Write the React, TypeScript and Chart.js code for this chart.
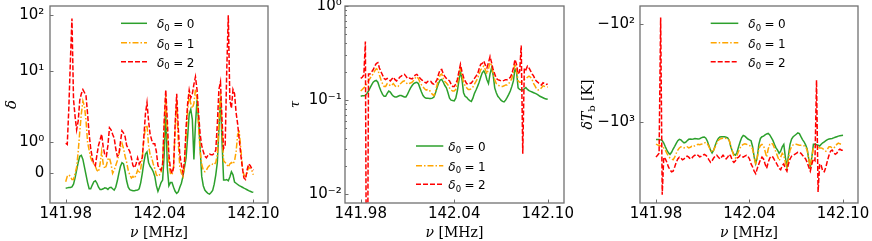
import React, { useEffect, useRef } from 'react';
import { Chart, registerables, LinearScale } from 'chart.js';

Chart.register(...registerables);

// ---------------- data ----------------
const FREQ = [
  141.980, 141.981, 141.982, 141.983, 141.984, 141.985, 141.986, 141.987, 141.988, 141.989,
  141.990, 141.991, 141.992, 141.993, 141.994, 141.995, 141.996, 141.997, 141.998, 141.999,
  142.000, 142.001, 142.002, 142.003, 142.004, 142.005, 142.006, 142.007, 142.008, 142.009,
  142.010, 142.011, 142.012, 142.013, 142.014, 142.015, 142.016, 142.017, 142.018, 142.019,
  142.020, 142.021, 142.022, 142.023, 142.024, 142.025, 142.026, 142.027, 142.028, 142.029,
  142.030, 142.031, 142.032, 142.033, 142.034, 142.035, 142.036, 142.037, 142.038, 142.039,
  142.040, 142.041, 142.042, 142.043, 142.044, 142.045, 142.046, 142.047, 142.048, 142.049,
  142.050, 142.051, 142.052, 142.053, 142.054, 142.055, 142.056, 142.057, 142.058, 142.059,
  142.060, 142.061, 142.062, 142.063, 142.064, 142.065, 142.066, 142.067, 142.068, 142.069,
  142.070, 142.071, 142.072, 142.073, 142.074, 142.075, 142.076, 142.077, 142.078, 142.079,
  142.080, 142.081, 142.082, 142.083, 142.084, 142.085, 142.086, 142.087, 142.088, 142.089,
  142.090, 142.091, 142.092, 142.093, 142.094, 142.095, 142.096, 142.097, 142.098, 142.099,
  142.100,
];

// density contrast delta, delta0 = 0 / 1 / 2
const DELTA_G = [
  -0.48, -0.47, -0.46, -0.46, -0.44, -0.35, -0.15, 0.1, 0.35, 0.55,
  0.58, 0.45, 0.2, -0.05, -0.3, -0.5, -0.5, -0.38, -0.27, -0.24,
  -0.32, -0.45, -0.52, -0.52, -0.5, -0.47, -0.48, -0.52, -0.46, -0.45,
  -0.5, -0.54, -0.45, -0.25, 0.0, 0.22, 0.34, 0.3, 0.05, -0.25,
  -0.45, -0.53, -0.55, -0.56, -0.56, -0.55, -0.54, -0.5, -0.3, 0.0,
  0.35, 0.62, 0.69, 0.35, 0.22, 0.15, 0.05, -0.1, -0.4, -0.58,
  -0.45, -0.3, -0.22, 0.6, 2.84, 0.2, -0.4, -0.3, -0.3, -0.45,
  -0.58, -0.65, -0.6, -0.45, -0.32, -0.1, 0.2, 0.5, 1.2, 2.5,
  2.9, 2.1, 0.45, 1.8, 3.9, 2.0, 0.8, -0.1, -0.4, -0.54,
  -0.6, -0.65, -0.67, -0.62, -0.55, -0.35, -0.05, 0.35, 1.5, 4.1,
  1.0, -0.22, -0.22, -0.2, -0.24, -0.12, 0.05, -0.05, -0.28, -0.32,
  -0.36, -0.4, -0.42, -0.45, -0.48, -0.5, -0.53, -0.56, -0.58, -0.6,
  -0.61,
];
const DELTA_O = [
  -0.27, -0.1, -0.05, -0.1, -0.2, -0.2, 0.0, 0.2, 0.7, 1.4,
  2.5, 3.8, 3.2, 2.0, 1.0, 0.75, 0.5, 0.37, 0.3, 0.22,
  0.1, 0.05, 0.3, 0.7, 0.3, 0.15, 0.25, 0.45, 0.5, 0.3,
  0.0, 0.1, 0.25, 0.4, 0.6, 0.85, 0.97, 0.8, 0.55, 0.35,
  0.1, -0.05, -0.15, -0.1, -0.16, -0.05, 0.1, 0.0, 0.15, 0.5,
  1.1, 1.6, 1.75, 0.9, 0.6, 0.5, 0.3, 0.15, -0.05, -0.1,
  -0.05, 0.05, 0.3, 1.5, 4.5, 1.2, 0.3, 0.0, -0.05, 0.2,
  1.5, 3.8, 1.0, 0.2, 0.0, -0.1, 0.3, 1.2, 2.8, 4.5,
  3.5, 3.0, 3.5, 5.5, 4.0, 1.6, 0.7, 0.3, 0.1, 0.05,
  0.1, 0.2, 0.25, 0.25, 0.3, 0.28, 0.35, 0.6, 2.0, 5.0,
  1.5, 0.4, 0.35, 0.3, 0.2, 0.3, 0.35, 0.3, 0.4, 0.7,
  1.3, 1.4, 0.8, 0.2, -0.05, -0.1, 0.0, 0.2, 0.15, 0.1,
  -0.05,
];
const DELTA_R = [
  0.97, 0.93, 3.0, 15, 88, 4.0, 2.3, 1.5, 2.0, 3.9,
  4.8, 5.5, 5.0, 4.5, 2.5, 1.3, 0.8, 0.5, 0.3, 0.25,
  0.6, 0.9, 1.08, 1.3, 0.85, 0.6, 0.55, 0.9, 1.6, 1.5,
  1.3, 1.15, 0.8, 0.55, 0.6, 1.0, 1.45, 1.35, 1.2, 0.9,
  0.8, 0.7, 0.5, 0.25, 0.18, 0.3, 0.5, 0.3, 0.4, 0.5,
  1.2, 2.5, 3.6, 2.0, 1.3, 1.08, 0.95, 0.95, 0.7, 0.25,
  0.15, 0.1, 0.3, 2.0, 5.4, 2.0, 0.6, 0.15, 0.0, 0.18,
  1.8, 4.8, 1.6, 0.6, 0.28, 0.02, 0.4, 1.6, 3.5, 5.4,
  4.2, 4.8, 6.5, 8.3, 5.5, 2.5, 1.3, 0.9, 0.7, 0.55,
  0.5, 0.58, 0.62, 0.6, 0.6, 0.65, 0.75, 1.8, 5.5, 7.0,
  2.0, 0.8, 0.9, 10, 100, 3.9, 3.0, 5.5, 4.8, 2.6,
  1.8, 1.1, 0.6, 0.18, -0.15, -0.2, 0.1, 0.3, 0.25, 0.15,
  0.1,
];

// optical depth tau
const TAU_G = [
  0.110, 0.111, 0.111, 0.112, 0.118, 0.125, 0.135, 0.145, 0.155, 0.160,
  0.162, 0.155, 0.138, 0.125, 0.115, 0.110, 0.110, 0.118, 0.125, 0.122,
  0.115, 0.110, 0.108, 0.108, 0.110, 0.112, 0.112, 0.110, 0.108, 0.108,
  0.115, 0.125, 0.135, 0.143, 0.150, 0.153, 0.155, 0.150, 0.135, 0.122,
  0.112, 0.107, 0.105, 0.105, 0.104, 0.104, 0.105, 0.108, 0.120, 0.135,
  0.152, 0.163, 0.166, 0.155, 0.143, 0.135, 0.120, 0.105, 0.100, 0.099,
  0.098, 0.105, 0.125, 0.160, 0.205, 0.165, 0.120, 0.110, 0.107, 0.102,
  0.099, 0.097, 0.105, 0.118, 0.128, 0.140, 0.155, 0.175, 0.195, 0.205,
  0.190, 0.165, 0.150, 0.190, 0.220, 0.185, 0.135, 0.120, 0.110, 0.105,
  0.100, 0.097, 0.096, 0.100, 0.107, 0.115, 0.125, 0.140, 0.160, 0.215,
  0.200, 0.135, 0.130, 0.128, 0.128, 0.132, 0.136, 0.130, 0.126, 0.124,
  0.122, 0.120, 0.118, 0.116, 0.113, 0.110, 0.108, 0.106, 0.104, 0.103,
  0.102,
];
const TAU_O = [
  0.125, 0.130, 0.135, 0.140, 0.150, 0.160, 0.170, 0.180, 0.190, 0.205,
  0.215, 0.210, 0.185, 0.165, 0.150, 0.140, 0.140, 0.150, 0.148, 0.142,
  0.145, 0.150, 0.142, 0.138, 0.140, 0.148, 0.152, 0.158, 0.160, 0.155,
  0.148, 0.150, 0.152, 0.155, 0.162, 0.172, 0.178, 0.170, 0.155, 0.145,
  0.138, 0.132, 0.128, 0.130, 0.128, 0.122, 0.115, 0.112, 0.125, 0.145,
  0.168, 0.185, 0.190, 0.170, 0.158, 0.152, 0.145, 0.135, 0.128, 0.125,
  0.125, 0.130, 0.150, 0.180, 0.215, 0.180, 0.155, 0.142, 0.135, 0.130,
  0.130, 0.132, 0.138, 0.148, 0.158, 0.170, 0.190, 0.210, 0.220, 0.230,
  0.210, 0.190, 0.215, 0.250, 0.235, 0.190, 0.165, 0.150, 0.145, 0.142,
  0.140, 0.140, 0.142, 0.145, 0.145, 0.150, 0.158, 0.170, 0.200, 0.245,
  0.210, 0.160, 0.155, 0.155, 0.160, 0.165, 0.168, 0.175, 0.180, 0.175,
  0.165, 0.150, 0.140, 0.130, 0.128, 0.130, 0.135, 0.142, 0.140, 0.138,
  0.138,
];
const TAU_R = [
  0.170, 0.175, 0.185, 0.420, 0.00005, 0.190, 0.190, 0.200, 0.210, 0.230,
  0.245, 0.250, 0.220, 0.200, 0.185, 0.170, 0.165, 0.170, 0.165, 0.160,
  0.168, 0.175, 0.165, 0.160, 0.165, 0.175, 0.180, 0.186, 0.188, 0.180,
  0.170, 0.172, 0.170, 0.168, 0.175, 0.185, 0.188, 0.180, 0.172, 0.165,
  0.160, 0.155, 0.152, 0.158, 0.160, 0.158, 0.150, 0.148, 0.155, 0.165,
  0.190, 0.210, 0.212, 0.190, 0.178, 0.170, 0.165, 0.160, 0.148, 0.140,
  0.140, 0.148, 0.165, 0.200, 0.240, 0.200, 0.175, 0.160, 0.150, 0.147,
  0.150, 0.152, 0.160, 0.170, 0.180, 0.190, 0.215, 0.240, 0.245, 0.260,
  0.235, 0.220, 0.250, 0.290, 0.250, 0.210, 0.190, 0.170, 0.165, 0.163,
  0.160, 0.160, 0.162, 0.165, 0.165, 0.168, 0.175, 0.190, 0.220, 0.270,
  0.240, 0.190, 0.200, 0.380, 0.027, 0.220, 0.210, 0.230, 0.220, 0.205,
  0.190, 0.180, 0.165, 0.158, 0.153, 0.148, 0.145, 0.153, 0.150, 0.147,
  0.148,
];

// brightness temperature dT_b [K]
const TB_G = [
  -1517, -1520, -1520, -1530, -1560, -1650, -1800, -1950, -2080, -2150,
  -2050, -1900, -1780, -1660, -1560, -1510, -1530, -1590, -1640, -1620,
  -1560, -1510, -1500, -1510, -1500, -1483, -1490, -1500, -1490, -1460,
  -1440, -1430, -1470, -1580, -1760, -1950, -2080, -1950, -1750, -1580,
  -1480, -1430, -1420, -1420, -1420, -1440, -1460, -1550, -1800, -2000,
  -2150, -2200, -2050, -1800, -1600, -1450, -1380, -1400, -1450, -1500,
  -1530, -1560, -1800, -2300, -2673, -2300, -1700, -1480, -1420, -1400,
  -1360, -1330, -1315, -1360, -1450, -1550, -1700, -1850, -1950, -2100,
  -2000, -1800, -1700, -2300, -2895, -2200, -1700, -1500, -1420, -1380,
  -1340, -1300, -1320, -1420, -1520, -1600, -1720, -1900, -2400, -2895,
  -2300, -1700, -1700, -1720, -1740, -1770, -1700, -1640, -1600, -1560,
  -1520, -1500, -1490, -1480, -1460, -1440, -1420, -1400, -1390, -1380,
  -1371,
];
const TB_O = [
  -1690, -1720, -1750, -1760, -1800, -1850, -1950, -2100, -2250, -2350,
  -2400, -2450, -2300, -2100, -1950, -1850, -1800, -1820, -1850, -1820,
  -1800, -1850, -1820, -1780, -1800, -1750, -1720, -1700, -1720, -1700,
  -1680, -1650, -1620, -1680, -1800, -1950, -2050, -1950, -1800, -1650,
  -1550, -1500, -1480, -1470, -1460, -1480, -1500, -1550, -1750, -2000,
  -2250, -2350, -2200, -2000, -1850, -1750, -1700, -1680, -1700, -1720,
  -1750, -1780, -1900, -2300, -2750, -2300, -1900, -1750, -1700, -1750,
  -2000, -2300, -1900, -1700, -1650, -1700, -1850, -2050, -2250, -2500,
  -2300, -2100, -2200, -2600, -2950, -2400, -1950, -1800, -1720, -1700,
  -1700, -1720, -1740, -1740, -1750, -1760, -1800, -1950, -2400, -2950,
  -2300, -1850, -1800, -1800, -1820, -1850, -1850, -1880, -1950, -2000,
  -1900, -1800, -1800, -1850, -1850, -1800, -1700, -1650, -1680, -1700,
  -1700,
];
const TB_R = [
  -2300, -2200, -2100, -85, -5600, -2300, -2400, -2600, -2900, -3100,
  -3250, -3200, -2900, -2600, -2400, -2300, -2350, -2450, -2400, -2300,
  -2250, -2300, -2400, -2350, -2250, -2200, -2150, -2200, -2280, -2250,
  -2200, -2150, -2200, -2300, -2450, -2600, -2500, -2350, -2250, -2200,
  -2300, -2400, -2300, -2200, -2300, -2400, -2300, -2150, -2250, -2500,
  -2600, -2500, -2350, -2300, -2200, -2250, -2300, -2250, -2200, -2250,
  -2400, -2700, -2900, -3200, -3400, -3000, -2700, -2450, -2300, -2400,
  -2700, -3000, -2600, -2350, -2250, -2300, -2450, -2600, -2800, -3000,
  -3100, -2800, -2700, -3000, -3200, -2700, -2400, -2250, -2200, -2150,
  -2100, -2050, -2050, -2100, -2200, -2300, -2400, -2600, -2900, -3200,
  -2700, -2400, -2500, -373, -5240, -2700, -2800, -3200, -3250, -2900,
  -2500, -2200, -2000, -1950, -2050, -2150, -2100, -1950, -1900, -1950,
  -1950,
];

const X_TICKS = [141.98, 142.04, 142.1];
const X_TICK_LABELS = ['141.98', '142.04', '142.10'];
const DELTA_TICKS = [0, 1, 10, 100];
const DELTA_TICK_LABELS = ['0', '10⁰', '10¹', '10²'];
const TAU_TICKS = [0.01, 0.1, 1];
const TAU_TICK_LABELS = ['10⁻²', '10⁻¹', '10⁰'];
const TAU_MINOR = [0.02, 0.03, 0.04, 0.05, 0.06, 0.07, 0.08, 0.09, 0.2, 0.3, 0.4, 0.5, 0.6, 0.7, 0.8, 0.9];
const TB_TICKS = [-1000, -100];
const TB_TICK_LABELS = ['−10³', '−10²'];
const LEGEND_VALUES = ['0', '1', '2'];

// ---------------- styles ----------------
const GREEN = '#2ca02c';
const ORANGE = '#ffa500';
const RED = '#ff0000';
const SPINE = '#707070';
const DASH_R = [5, 2];
const DASH_O = [6, 2, 1.5, 2];
const SANS = 'DejaVu Sans';
const SERIF = '"DejaVu Serif"';

// ---------------- custom y-scale with a transform ----------------
const TRANSFORMS: Record<string, { f: (v: number) => number; inv: (g: number) => number; ticks: number[] }> = {
  symdelta: {
    f: (v) => (v <= 1 ? v : v <= 10 ? 1 + 2.3 * Math.log10(v) : 3.3 + 1.797 * Math.log10(v / 10)),
    inv: (g) => (g <= 1 ? g : g <= 3.3 ? Math.pow(10, (g - 1) / 2.3) : 10 * Math.pow(10, (g - 3.3) / 1.797)),
    ticks: DELTA_TICKS,
  },
  log: {
    f: (v) => Math.log10(v),
    inv: (g) => Math.pow(10, g),
    ticks: TAU_TICKS,
  },
  neglog: {
    f: (v) => -Math.log10(-v),
    inv: (g) => -Math.pow(10, -g),
    ticks: TB_TICKS,
  },
};

class FuncScale extends LinearScale {
  static id = 'func';
  static defaults = {};
  tf() {
    return TRANSFORMS[(this.options as any).fkey];
  }
  determineDataLimits() {
    this.min = (this.options as any).min;
    this.max = (this.options as any).max;
  }
  buildTicks() {
    return this.tf().ticks.map((v) => ({ value: v }));
  }
  getPixelForValue(value: number) {
    const t = this.tf();
    const g0 = t.f(this.min);
    const g1 = t.f(this.max);
    return this.getPixelForDecimal((t.f(value) - g0) / (g1 - g0));
  }
  getValueForPixel(pixel: number) {
    const t = this.tf();
    const g0 = t.f(this.min);
    const g1 = t.f(this.max);
    return t.inv(g0 + this.getDecimalForPixel(pixel) * (g1 - g0));
  }
}
Chart.register(FuncScale as any);

// ---------------- drawing helpers ----------------
type Run = { t: string; font: string; dy?: number; gap?: number };

function drawRuns(ctx: CanvasRenderingContext2D, runs: Run[], x: number, y: number, align: 'left' | 'center') {
  const widths = runs.map((r) => {
    ctx.font = r.font;
    return ctx.measureText(r.t).width;
  });
  const total = widths.reduce((s, w, i) => s + w + (runs[i].gap || 0), 0);
  let cx = align === 'center' ? x - total / 2 : x;
  ctx.textAlign = 'left';
  ctx.textBaseline = 'alphabetic';
  runs.forEach((r, i) => {
    cx += r.gap || 0;
    ctx.font = r.font;
    ctx.fillText(r.t, cx, y + (r.dy || 0));
    cx += widths[i];
  });
}

type Panel = {
  left: number;
  right: number;
  w: number;
  xmin: number;
  xmax: number;
  fkey: string;
  ymin: number;
  ymax: number;
  yLabels: string[];
  yPad: number;
  minor: number[];
  green: number[];
  orange: number[];
  red: number[];
  yTitle: Run[];
  yTitleX: number;
  legX0: number;
  legX1: number;
  legTX: number;
  legRows: number[];
};

function makeDecor(p: Panel) {
  return {
    id: 'decor',
    afterDraw(chart: any) {
      const ctx: CanvasRenderingContext2D = chart.ctx;
      const a = chart.chartArea;
      const xs = chart.scales.x;
      const ys = chart.scales.y;
      ctx.save();
      // ticks (inward)
      ctx.strokeStyle = SPINE;
      ctx.lineWidth = 1;
      ctx.beginPath();
      X_TICKS.forEach((v) => {
        const px = Math.round(xs.getPixelForValue(v)) + 0.5;
        ctx.moveTo(px, a.bottom);
        ctx.lineTo(px, a.bottom - 3.5);
      });
      TRANSFORMS[p.fkey].ticks.forEach((v) => {
        const py = Math.round(ys.getPixelForValue(v)) + 0.5;
        ctx.moveTo(a.left, py);
        ctx.lineTo(a.left + 3.5, py);
      });
      p.minor.forEach((v) => {
        const py = Math.round(ys.getPixelForValue(v)) + 0.5;
        ctx.moveTo(a.left, py);
        ctx.lineTo(a.left + 2, py);
      });
      ctx.stroke();
      // spines
      ctx.lineWidth = 1.3;
      ctx.strokeRect(a.left, a.top, a.right - a.left, a.bottom - a.top);

      // legend
      const colors = [GREEN, ORANGE, RED];
      const dashes = [[], DASH_O, DASH_R];
      LEGEND_VALUES.forEach((val, i) => {
        const y = p.legRows[i];
        ctx.strokeStyle = colors[i];
        ctx.lineWidth = 1.5;
        ctx.setLineDash(dashes[i]);
        ctx.beginPath();
        ctx.moveTo(p.legX0, y);
        ctx.lineTo(p.legX1, y);
        ctx.stroke();
        ctx.setLineDash([]);
        ctx.fillStyle = '#000';
        drawRuns(
          ctx,
          [
            { t: 'δ', font: `italic 12px ${SANS}` },
            { t: '0', font: `8.5px ${SANS}`, dy: 2.5 },
            { t: '=', font: `12px ${SANS}`, gap: 3.5 },
            { t: val, font: `12px ${SANS}`, gap: 3.5 },
          ],
          p.legTX,
          y + 4.8,
          'left'
        );
      });

      // x title
      ctx.fillStyle = '#000';
      drawRuns(
        ctx,
        [
          { t: 'ν', font: `italic 14px ${SERIF}` },
          { t: ' [MHz]', font: `14px ${SERIF}` },
        ],
        (a.left + a.right) / 2,
        236.5,
        'center'
      );

      // y title (rotated)
      ctx.translate(p.yTitleX, (a.top + a.bottom) / 2);
      ctx.rotate(-Math.PI / 2);
      drawRuns(ctx, p.yTitle, 0, 0, 'center');
      ctx.restore();
    },
  };
}

function makeConfig(p: Panel): any {
  const pts = (arr: number[]) => FREQ.map((f, i) => ({ x: f, y: arr[i] }));
  return {
    type: 'line',
    data: {
      datasets: [
        { label: 'δ0 = 2', data: pts(p.red), borderColor: RED, borderWidth: 1.5, borderDash: DASH_R, pointRadius: 0, tension: 0, fill: false },
        { label: 'δ0 = 1', data: pts(p.orange), borderColor: ORANGE, borderWidth: 1.5, borderDash: DASH_O, pointRadius: 0, tension: 0, fill: false },
        { label: 'δ0 = 0', data: pts(p.green), borderColor: GREEN, borderWidth: 1.5, pointRadius: 0, tension: 0, fill: false },
      ],
    },
    options: {
      animation: false,
      responsive: false,
      events: [],
      layout: { padding: { left: 0, top: 6, right: p.w - p.right, bottom: 0 } },
      plugins: { legend: { display: false }, tooltip: { enabled: false }, title: { display: false } },
      scales: {
        x: {
          type: 'linear',
          min: p.xmin,
          max: p.xmax,
          bounds: 'data',
          grid: { display: false, drawTicks: false },
          border: { display: false },
          afterBuildTicks: (s: any) => {
            s.ticks = X_TICKS.map((v) => ({ value: v }));
          },
          afterFit: (s: any) => {
            s.height = 38;
            s.paddingLeft = 0;
            s.paddingRight = 0;
          },
          ticks: {
            autoSkip: false,
            maxRotation: 0,
            minRotation: 0,
            padding: 2,
            color: '#000',
            font: { family: SANS, size: 15 },
            callback: (_v: any, i: number) => X_TICK_LABELS[i],
          },
        },
        y: {
          type: 'func',
          fkey: p.fkey,
          min: p.ymin,
          max: p.ymax,
          grid: { display: false, drawTicks: false },
          border: { display: false },
          afterFit: (s: any) => {
            s.width = p.left;
            s.paddingTop = 0;
            s.paddingBottom = 0;
          },
          ticks: {
            autoSkip: false,
            padding: p.yPad,
            color: '#000',
            font: { family: SANS, size: 15 },
            callback: (_v: any, i: number) => p.yLabels[i],
          },
        },
      },
    },
    plugins: [makeDecor(p)],
  };
}

const PANELS: Panel[] = [
  {
    left: 50, right: 268, w: 290, xmin: 141.96996, xmax: 142.1094,
    fkey: 'symdelta', ymin: -0.958, ymax: 147, yLabels: DELTA_TICK_LABELS, yPad: 5.7, minor: [],
    green: DELTA_G, orange: DELTA_O, red: DELTA_R,
    yTitle: [{ t: 'δ', font: `italic 15px ${SERIF}` }], yTitleX: 16,
    legX0: 121, legX1: 147, legTX: 157, legRows: [23.3, 42.7, 61.7],
  },
  {
    left: 55, right: 274, w: 290, xmin: 141.96992, xmax: 142.11046,
    fkey: 'log', ymin: 0.00808, ymax: 1.0, yLabels: TAU_TICK_LABELS, yPad: 3.3, minor: TAU_MINOR,
    green: TAU_G, orange: TAU_O, red: TAU_R,
    yTitle: [{ t: 'τ', font: `italic 13px ${SERIF}` }], yTitleX: 9,
    legX0: 126, legX1: 153.3, legTX: 158.3, legRows: [146, 165.7, 184.3],
  },
  {
    left: 60, right: 278, w: 292, xmin: 141.96975, xmax: 142.10961,
    fkey: 'neglog', ymin: -6790, ymax: -64.9, yLabels: TB_TICK_LABELS, yPad: 5, minor: [],
    green: TB_G, orange: TB_O, red: TB_R,
    yTitle: [
      { t: 'δT', font: `italic 14px ${SERIF}` },
      { t: 'b', font: `10px ${SERIF}`, dy: 3 },
      { t: ' [K]', font: `14px ${SERIF}` },
    ],
    yTitleX: 12,
    legX0: 130.7, legX1: 158.3, legTX: 168.3, legRows: [23.3, 42.7, 61.7],
  },
];

function PanelChart({ p, x }: { p: Panel; x: number }) {
  const ref = useRef<HTMLCanvasElement>(null);
  useEffect(() => {
    if (!ref.current) return;
    const chart = new Chart(ref.current, makeConfig(p));
    return () => chart.destroy();
  }, [p]);
  return (
    <canvas
      ref={ref}
      width={p.w}
      height={241}
      style={{ position: 'absolute', left: x, top: 0, width: p.w, height: 241 }}
    />
  );
}

export default function App() {
  return (
    <div style={{ position: 'absolute', left: 0, top: 0, width: 872, height: 241, background: '#fff', overflow: 'hidden' }}>
      <PanelChart p={PANELS[0]} x={0} />
      <PanelChart p={PANELS[1]} x={290} />
      <PanelChart p={PANELS[2]} x={580} />
    </div>
  );
}
